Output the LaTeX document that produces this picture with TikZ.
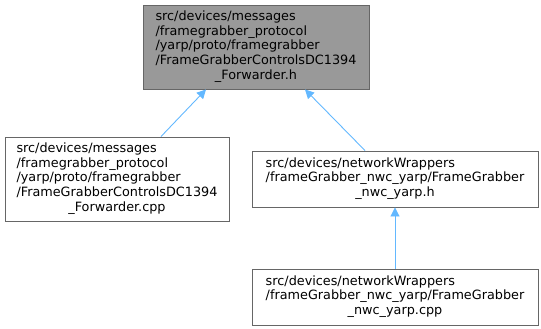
\documentclass[tikz,border=0pt]{standalone}
\usepackage{fontspec}
\setmainfont{DejaVu Sans}
\usetikzlibrary{arrows.meta}
\definecolor{edgeblue}{HTML}{63B8FF}
\definecolor{boxline}{HTML}{666666}
\definecolor{rootfill}{HTML}{999999}
\tikzset{
  filebox/.style={draw=boxline, line width=0.9pt, fill=white, inner sep=0pt,
    font=\fontsize{12.8}{14.8}\selectfont},
  rootbox/.style={filebox, fill=rootfill},
  dep/.style={draw=edgeblue, line width=0.9pt,
    -{Triangle[length=9pt,width=9pt]}}
}
% left-justified lines, last line centred
\newcommand{\fileparts}[2]{\begin{tabular}{@{}l@{}}#1\\\multicolumn{1}{@{}c@{}}{#2}\end{tabular}}
\begin{document}
\begin{tikzpicture}[x=1pt,y=-1pt]
\useasboundingbox (0,0) rectangle (541,329);
\node[rootbox, minimum width=226pt, minimum height=84pt] (top) at (256,47)
  {\fileparts{src/devices/messages\\/framegrabber\_protocol\\/yarp/proto/framegrabber\\/FrameGrabberControlsDC1394}{\_Forwarder.h}};
\node[filebox, minimum width=224pt, minimum height=84pt] (left) at (117,179)
  {\fileparts{src/devices/messages\\/framegrabber\_protocol\\/yarp/proto/framegrabber\\/FrameGrabberControlsDC1394}{\_Forwarder.cpp}};
\node[filebox, minimum width=286pt, minimum height=56pt] (mid) at (395,179)
  {\fileparts{src/devices/networkWrappers\\/frameGrabber\_nwc\_yarp/FrameGrabber}{\_nwc\_yarp.h}};
\node[filebox, minimum width=286pt, minimum height=56pt] (bot) at (395,297)
  {\fileparts{src/devices/networkWrappers\\/frameGrabber\_nwc\_yarp/FrameGrabber}{\_nwc\_yarp.cpp}};
\draw[dep] ([xshift=44pt]left.north) -- ([xshift=-50pt]top.south);
\draw[dep] ([xshift=-30pt]mid.north) -- ([xshift=49pt]top.south);
\draw[dep] (bot.north) -- (mid.south);
\end{tikzpicture}
\end{document}
